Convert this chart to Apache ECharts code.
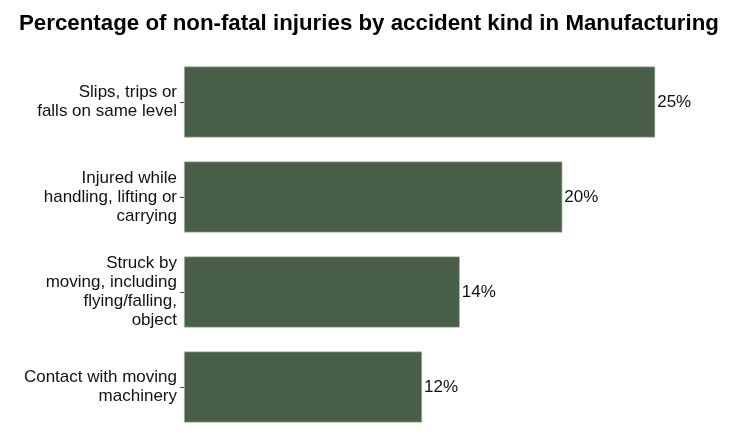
<!DOCTYPE html>
<html>
<head>
<meta charset="utf-8">
<script src="https://cdn.jsdelivr.net/npm/echarts@6/dist/echarts.min.js"></script>
<style>html,body{margin:0;padding:0;background:#fff;}#c{width:750px;height:440px;}</style>
</head>
<body>
<div id="c"></div>
<script>
var categories = [
  "Slips, trips or\nfalls on same level",
  "Injured while\nhandling, lifting or\ncarrying",
  "Struck by\nmoving, including\nflying/falling,\nobject",
  "Contact with moving\nmachinery"
];
var values = [24.72, 19.85, 14.47, 12.49];
var titleText = "Percentage of non-fatal injuries by accident kind in Manufacturing";

var chart = echarts.init(document.getElementById('c'), null, {renderer: 'canvas'});
chart.setOption({
  animation: false,
  backgroundColor: '#ffffff',
  textStyle: {fontFamily: 'Liberation Sans, Arial, sans-serif'},
  title: {
    text: titleText,
    left: 14,
    top: 8,
    textStyle: {fontFamily: 'Liberation Sans, Arial, sans-serif', fontSize: 22.3, fontWeight: 'bold', color: '#000'}
  },
  grid: {left: 184, top: 54.5, height: 380, width: 533.7, containLabel: false},
  xAxis: {type: 'value', min: 0, max: 28, show: false},
  yAxis: {
    type: 'category',
    data: categories,
    inverse: true,
    axisLine: {show: false},
    axisTick: {show: true, length: 4, alignWithLabel: true, lineStyle: {color: '#444', width: 1}},
    axisLabel: {
      margin: 7,
      fontSize: 17,
      lineHeight: 19,
      color: '#111',
      align: 'right',
      fontFamily: 'Liberation Sans, Arial, sans-serif'
    }
  },
  series: [{
    type: 'bar',
    data: values,
    barWidth: 71,
    itemStyle: {color: '#4a5f47', borderColor: '#b8c0b6', borderWidth: 0.6},
    label: {
      show: true,
      position: 'right',
      distance: 2,
      fontSize: 17,
      color: '#111',
      fontFamily: 'Liberation Sans, Arial, sans-serif',
      formatter: function (p) { return Math.round(p.value) + '%'; }
    }
  }]
});
</script>
</body>
</html>
